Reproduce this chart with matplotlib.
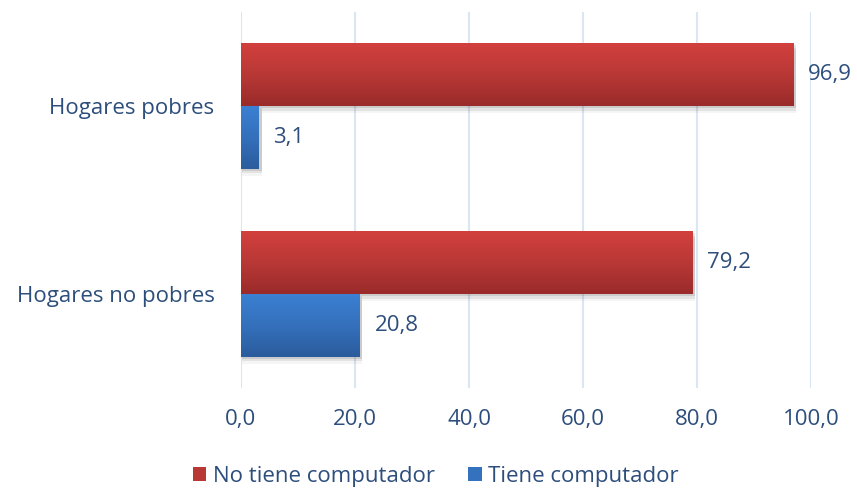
import numpy as np
import matplotlib
matplotlib.use("Agg")
import matplotlib.pyplot as plt
from matplotlib.colors import LinearSegmentedColormap
from matplotlib.patches import Rectangle, Patch

plt.rcParams['font.family'] = ['Open Sans', 'DejaVu Sans']

categories = ['Hogares pobres', 'Hogares no pobres']
no_tiene = [96.9, 79.2]
tiene = [3.1, 20.8]
series_labels = ['No tiene computador', 'Tiene computador']
xticks = [0, 20, 40, 60, 80, 100]

text_color = '#2d4e7c'
grid_color = '#dbe6f4'
red_cmap = LinearSegmentedColormap.from_list('r', ['#d2403d', '#b83836', '#9a2b2a'])
blue_cmap = LinearSegmentedColormap.from_list('b', ['#3b80d2', '#3470bb', '#2b5c9d'])
fs = 16

fig = plt.figure(figsize=(8.57, 4.90), dpi=100)
ax = fig.add_axes([241 / 857, 1 - 388 / 490, 570 / 857, 376 / 490])

h = 0.335
ypos = np.arange(len(categories))


def grad_bar(ax, y0, width, height, cmap):
    # soft shadow
    for k, a in [(0.012, 0.10), (0.024, 0.07), (0.036, 0.04)]:
        ax.add_patch(Rectangle((0.25, y0 + k), width + 0.25, height, facecolor='#000000',
                               alpha=a, edgecolor='none', zorder=2))
    rect = Rectangle((0, y0), width, height, facecolor='none', edgecolor='none', zorder=3)
    ax.add_patch(rect)
    grad = np.linspace(0, 1, 100).reshape(-1, 1)
    im = ax.imshow(grad, cmap=cmap, aspect='auto', extent=(0, width, y0 + height, y0),
                   origin='upper', zorder=3)
    im.set_clip_path(rect)


for i, y in enumerate(ypos):
    # red bar above center, blue bar below (inverted y axis)
    grad_bar(ax, y - h, no_tiene[i], h, red_cmap)
    grad_bar(ax, y, tiene[i], h, blue_cmap)
    ax.text(no_tiene[i] + 2.6, y - h / 2, f'{no_tiene[i]:.1f}'.replace('.', ','),
            va='center', ha='left', fontsize=fs, color=text_color, zorder=5)
    ax.text(tiene[i] + 2.6, y + h / 2, f'{tiene[i]:.1f}'.replace('.', ','),
            va='center', ha='left', fontsize=fs, color=text_color, zorder=5)

ax.set_xlim(0, 100)
ax.set_ylim(1.5, -0.5)
ax.set_xticks(xticks)
ax.set_xticklabels([f'{v:.1f}'.replace('.', ',') for v in xticks], fontsize=fs, color=text_color)
ax.set_yticks(ypos)
ax.set_yticklabels(categories, fontsize=fs, color=text_color)
ax.tick_params(length=0, pad=19, axis='y')
ax.tick_params(length=0, pad=15, axis='x')
ax.grid(axis='x', color=grid_color, linewidth=1.5, zorder=0)
ax.set_axisbelow(True)
for s in ax.spines.values():
    s.set_visible(False)

handles = [Patch(facecolor='#b83836'), Patch(facecolor='#3472bd')]
fig.legend(handles, series_labels, loc='center', bbox_to_anchor=(436 / 857, 1 - 476 / 490),
           ncol=2, frameon=False, fontsize=fs, labelcolor=text_color,
           handlelength=0.6, handleheight=0.6, handletextpad=0.3, columnspacing=1.5)

fig.savefig('out.png', dpi=100)
